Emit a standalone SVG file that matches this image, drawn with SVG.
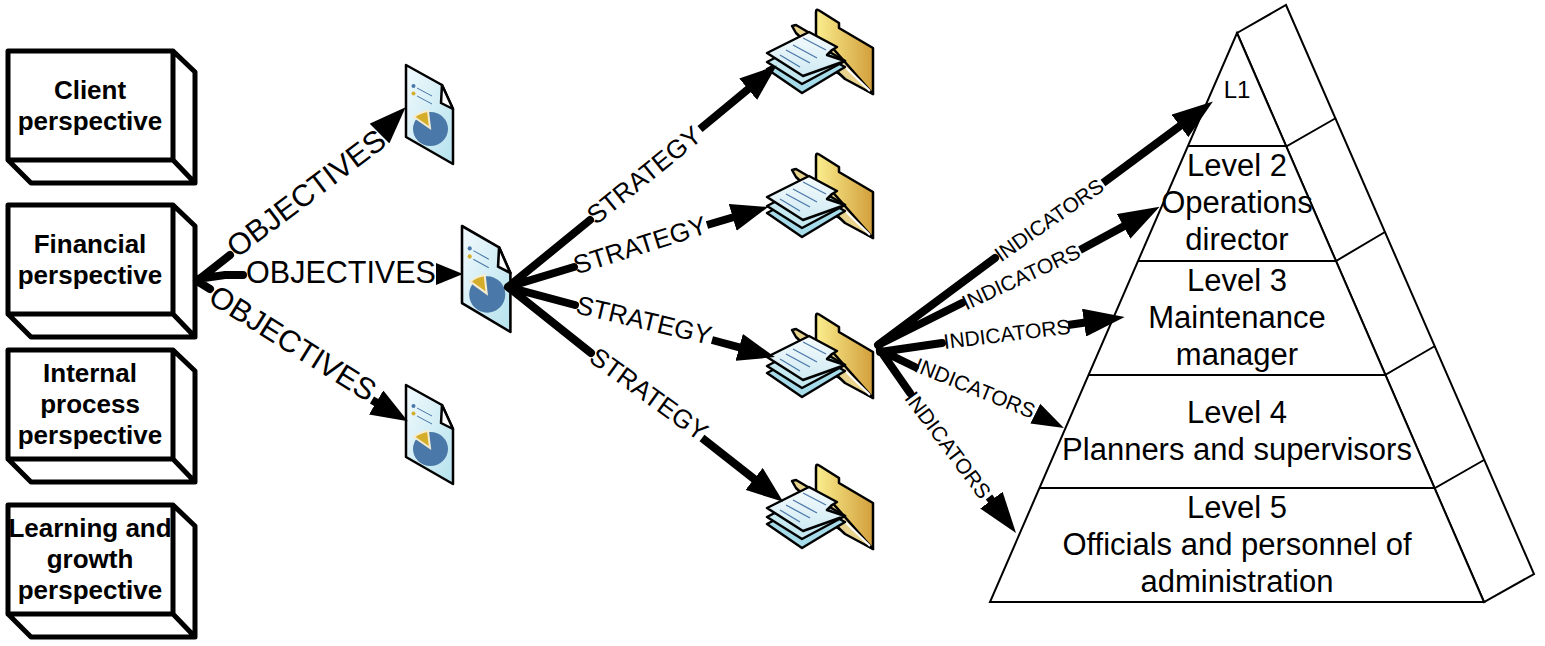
<svg xmlns="http://www.w3.org/2000/svg" width="1545" height="646" viewBox="0 0 1545 646">
<style>
text{font-family:"Liberation Sans",Arial,sans-serif;fill:#000;text-anchor:middle}
.box{fill:#fff;stroke:#000;stroke-width:5;stroke-linejoin:round}
.bt{font-size:26px;font-weight:bold}
.py{fill:#fff;stroke:#000;stroke-width:2}
.pl{fill:none;stroke:#000;stroke-width:2}
.pt{font-size:31px}
.c{fill:none;stroke:#000;stroke-width:8;stroke-linecap:round}
.ca{fill:none;stroke:#000;stroke-width:8}
.m1{marker-end:url(#ah)}.m2{marker-end:url(#ahs)}.m3{marker-end:url(#ahl)}.m4{marker-end:url(#ahm)}
.ob{font-size:30.500px}.st{font-size:26px}.in{font-size:21px}
.ic{stroke:#000;stroke-width:2.500;stroke-linejoin:round}
</style>
<defs>
<marker id="ah" markerUnits="userSpaceOnUse" markerWidth="37" markerHeight="28" refX="5" refY="14" orient="auto"><path d="M0 0L37 14L0 28Z" fill="#000"/></marker>
<marker id="ahs" markerUnits="userSpaceOnUse" markerWidth="27" markerHeight="22" refX="3" refY="11" orient="auto"><path d="M0 0L27 11L0 22Z" fill="#000"/></marker>
<marker id="ahl" markerUnits="userSpaceOnUse" markerWidth="41" markerHeight="28" refX="5" refY="14" orient="auto"><path d="M0 0L41 14L0 28Z" fill="#000"/></marker>
<marker id="ahm" markerUnits="userSpaceOnUse" markerWidth="32" markerHeight="22" refX="3" refY="11" orient="auto"><path d="M0 0L32 11L0 22Z" fill="#000"/></marker>
<linearGradient id="dg" x1="0" y1="0" x2="1" y2="1"><stop offset="0" stop-color="#f2fafd"/><stop offset="1" stop-color="#b5e2ee"/></linearGradient>
<linearGradient id="fg" x1="0" y1="0" x2="1" y2="0"><stop offset="0" stop-color="#fbee8e"/><stop offset="1" stop-color="#d29f3c"/></linearGradient>
<linearGradient id="sg" x1="0" y1="0" x2="0" y2="1"><stop offset="0" stop-color="#f5fbfd"/><stop offset="1" stop-color="#cfeaf3"/></linearGradient>
<g id="doc">
<path class="ic" fill="url(#dg)" d="M406 65L442 85L453 109V164L406 137Z"/>
<path class="ic" fill="#fff" d="M442 85L441 103L453 109Z"/>
<circle cx="413.500" cy="86" r="2" fill="#4a78a8"/><circle cx="413.500" cy="93.500" r="2" fill="#d4ae2a"/>
<path d="M417 88L432 96M417 96L432 104" stroke="#4a78a8" stroke-width="1"/>
<ellipse cx="430.500" cy="129" rx="17.500" ry="17" fill="#4a78a8"/>
<path d="M414 117Q420 112 428 111L430 128Z" fill="#d4ae2a" stroke="#f5ecd0" stroke-width="2"/>
</g>
<g id="fold">
<path class="ic" fill="url(#fg)" d="M816 12Q816 8 820 11L839 23V28L873 48V94L816 60Z"/>
<path class="ic" fill="#e8d48e" d="M792 26L796 25L830 45L873 94L845 79L796 33Z"/>
<path d="M836 58L870 91" stroke="#fff" stroke-width="2"/>
<path class="ic" fill="#a6dcea" d="M767 69L809 47L845 67L802 93Z"/>
<path class="ic" fill="#c5e8f1" d="M767 62L809 40L845 61L802 84Z"/>
<path class="ic" fill="url(#sg)" d="M767 53L809 32L837 47L832 50L827 55L845 61L803 76Z"/>
<path d="M803 38L826 50M793 45L817 58M786 50L810 63M780 55L800 67" stroke="#4a78a8" stroke-width="1.300"/>
</g>
</defs>

<g id="client"><path class="box" d="M8 51H173V160H8ZM173 51L195 72V183H31L8 160M173 160L195 183"/><text class="bt" x="90" y="99">Client</text><text class="bt" x="90" y="130">perspective</text></g>
<g id="financial"><path class="box" d="M8 205H173V314H8ZM173 205L195 226V337H31L8 314M173 314L195 337"/><text class="bt" x="90" y="253">Financial</text><text class="bt" x="90" y="284">perspective</text></g>
<g id="internal"><path class="box" d="M8 350H173V459H8ZM173 350L195 371V482H31L8 459M173 459L195 482"/><text class="bt" x="90" y="382">Internal</text><text class="bt" x="90" y="413">process</text><text class="bt" x="90" y="444">perspective</text></g>
<g id="learning"><path class="box" d="M8 505H173V614H8ZM173 505L195 526V637H31L8 614M173 614L195 637"/><text class="bt" x="90" y="537">Learning and</text><text class="bt" x="90" y="568">growth</text><text class="bt" x="90" y="599">perspective</text></g>

<g id="doc1"><use href="#doc"/></g>
<g id="doc2"><use href="#doc" transform="translate(462 226) scale(1.03 1.07) translate(-406 -65)"/></g>
<g id="doc3"><use href="#doc" transform="translate(0 320)"/></g>
<g id="folder1"><use href="#fold"/></g>
<g id="folder2"><use href="#fold" transform="translate(0 144)"/></g>
<g id="folder3"><use href="#fold" transform="translate(0 304)"/></g>
<g id="folder4"><use href="#fold" transform="translate(0 455)"/></g>

<g id="pyramid">
<path class="py" d="M1237 33L1286 5L1534 574L1484 602Z"/>
<path class="py" d="M1237 33L1484 602H990Z"/>
<path class="pl" d="M1188 146H1287L1336 118M1138 261H1336L1385 232M1089 375H1385L1435 346M1040 488H1435L1484 460"/>
<text x="1237" y="98" style="font-size:24px">L1</text>
<text class="pt" x="1237" y="176">Level 2</text><text class="pt" x="1237" y="213">Operations</text><text class="pt" x="1237" y="250">director</text>
<text class="pt" x="1237" y="291">Level 3</text><text class="pt" x="1237" y="328">Maintenance</text><text class="pt" x="1237" y="365">manager</text>
<text class="pt" x="1237" y="423">Level 4</text><text class="pt" x="1237" y="460">Planners and supervisors</text>
<text class="pt" x="1237" y="518">Level 5</text><text class="pt" x="1237" y="555">Officials and personnel of</text><text class="pt" x="1237" y="592">administration</text>
</g>

<g id="connectors">
<path class="c" d="M197 281L230 255M197 279L225 275H243M197 281L210 289"/>
<path class="ca m1" d="M381 132L383 130"/><path class="ca m2" d="M437 274L439 274"/><path class="ca m1" d="M372 400L380.400 405"/>
<path class="c" d="M508 287L590 220M508 287L574 267M508 287L575 305M508 287L591 353"/>
<path class="ca m1" d="M700 129L752 86"/><path class="ca m1" d="M707 225L737.500 216"/><path class="ca m1" d="M712 340L744 348.700"/><path class="ca m1" d="M702 438L758 482"/>
<path class="c" d="M878 345L995 258M878 345L962 303M880 352L942 343M880 350L915 367M880 350L910 393"/>
<path class="ca m3" d="M1103 183L1184 123"/><path class="ca m3" d="M1080 250L1128 224"/><path class="ca m3" d="M1068 325L1089 322"/><path class="ca m4" d="M1036 414L1038 415"/><path class="ca m3" d="M989 497L994.400 504.200"/>
<text class="ob" transform="translate(306 193) rotate(-37)" dy=".35em">OBJECTIVES</text>
<text class="ob" x="341" y="283">OBJECTIVES</text>
<text class="ob" transform="translate(293 343) rotate(32)" dy=".35em">OBJECTIVES</text>
<text class="st" transform="translate(644 175) rotate(-39)" dy=".35em">STRATEGY</text>
<text class="st" transform="translate(640 245) rotate(-17.500)" dy=".35em">STRATEGY</text>
<text class="st" transform="translate(644 320) rotate(13.300)" dy=".35em">STRATEGY</text>
<text class="st" transform="translate(649 394) rotate(36)" dy=".35em">STRATEGY</text>
<text class="in" transform="translate(1049 220) rotate(-35)" dy=".35em">INDICATORS</text>
<text class="in" transform="translate(1021 277) rotate(-25)" dy=".35em">INDICATORS</text>
<text class="in" transform="translate(1007 334) rotate(-7)" dy=".35em">INDICATORS</text>
<text class="in" transform="translate(975 388) rotate(22)" dy=".35em">INDICATORS</text>
<text class="in" transform="translate(948 445) rotate(53)" dy=".35em">INDICATORS</text>
</g>
</svg>
